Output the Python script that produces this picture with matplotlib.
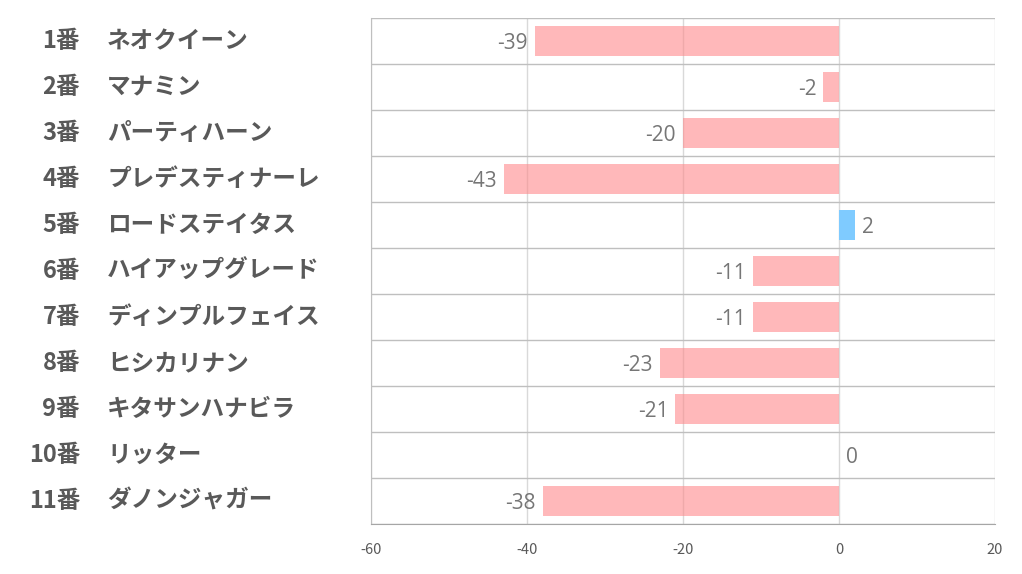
import matplotlib
matplotlib.use("Agg")
import matplotlib.pyplot as plt
from matplotlib.ticker import FixedLocator

plt.rcParams['font.family'] = ['Noto Sans CJK JP', 'DejaVu Sans']

numbers = ["1番", "2番", "3番", "4番", "5番", "6番", "7番", "8番", "9番", "10番", "11番"]
names = ["ネオクイーン", "マナミン", "パーティハーン", "プレデスティナーレ", "ロードステイタス",
         "ハイアップグレード", "ディンプルフェイス", "ヒシカリナン", "キタサンハナビラ", "リッター", "ダノンジャガー"]
values = [-39, -2, -20, -43, 2, -11, -11, -23, -21, 0, -38]
xticks = [-60, -40, -20, 0, 20]

fig = plt.figure(figsize=(10.22, 5.74), dpi=100)
ax = fig.add_axes([371/1022, 50/574, 624/1022, 506/574])

n = len(values)
ypos = list(range(n))
colors = ['#7FCBFF' if v > 0 else '#FF8A8C' for v in values]
alphas = [1.0 if v > 0 else 0.6 for v in values]
for y, v, c, a in zip(ypos, values, colors, alphas):
    ax.barh(y, v, height=0.65, color=c, alpha=a, zorder=3, linewidth=0)

ax.set_xlim(-60, 20)
ax.set_ylim(n - 0.5, -0.5)
ax.set_xticks(xticks)
ax.set_xticklabels([str(t) for t in xticks])
ax.set_yticks([])
ax.yaxis.set_minor_locator(FixedLocator([i - 0.5 for i in range(n + 1)]))
ax.tick_params(axis='y', which='both', length=0, labelleft=False)
ax.tick_params(axis='x', length=0, labelsize=10.5, colors='#595959', pad=14)
ax.grid(axis='x', color='#D9D9D9', linewidth=1, zorder=1)
ax.grid(axis='y', which='minor', color='#BFBFBF', linewidth=1, zorder=2)

for s in ['top', 'right']:
    ax.spines[s].set_visible(False)
ax.spines['left'].set_color('#BFBFBF')
ax.spines['bottom'].set_color('#A6A6A6')

for y, v in zip(ypos, values):
    if v < 0:
        ax.annotate(str(v), (v, y), xytext=(-5, -2), textcoords='offset points',
                    ha='right', va='center', fontsize=15, color='#767676',
                    family=['Open Sans', 'DejaVu Sans'])
    else:
        ax.annotate(str(v), (v, y), xytext=(5, -2), textcoords='offset points',
                    ha='left', va='center', fontsize=15, color='#767676',
                    family=['Open Sans', 'DejaVu Sans'])

trans = ax.get_yaxis_transform()
for y, num, nm in zip(ypos, numbers, names):
    ax.text((80 - 371) / 624, y, num, transform=trans, ha='right', va='center',
            fontsize=17, fontweight='bold', color='#595959', clip_on=False)
    ax.text((107 - 371) / 624, y, nm, transform=trans, ha='left', va='center',
            fontsize=17, fontweight='bold', color='#595959', clip_on=False)

fig.savefig("out.png", dpi=100, facecolor='white')
